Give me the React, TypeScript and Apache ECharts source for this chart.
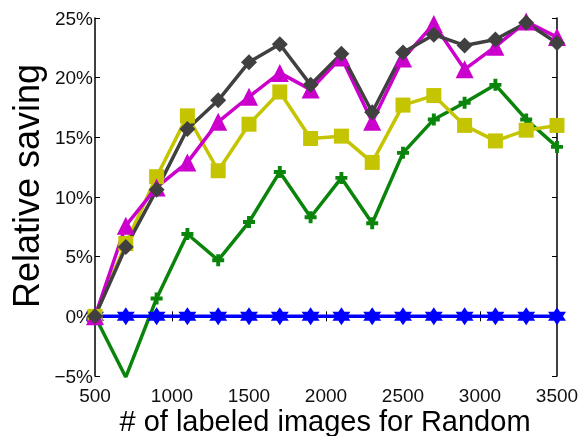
import React, { useEffect, useRef } from "react";
import * as echarts from "echarts";

// Number of labeled images (x) and relative saving in percent (y) per method
const labeledImages = [500, 700, 900, 1100, 1300, 1500, 1700, 1900, 2100, 2300, 2500, 2700, 2900, 3100, 3300, 3500];
const savingBlue = [0, 0, 0, 0, 0, 0, 0, 0, 0, 0, 0, 0, 0, 0, 0, 0];
const savingGreen = [0, -5.1, 1.5, 6.9, 4.7, 7.9, 12.1, 8.3, 11.6, 7.8, 13.7, 16.5, 17.9, 19.4, 16.5, 14.2];
const savingYellow = [0, 6.1, 11.7, 16.8, 12.2, 16.1, 18.8, 14.9, 15.1, 12.9, 17.7, 18.5, 16.0, 14.7, 15.6, 16.0];
const savingMagenta = [0, 7.6, 10.8, 12.9, 16.3, 18.4, 20.4, 19.0, 21.7, 16.3, 21.6, 24.5, 20.7, 22.6, 24.7, 23.4];
const savingBlack = [0, 5.8, 10.6, 15.7, 18.1, 21.3, 22.8, 19.4, 22.0, 17.1, 22.1, 23.6, 22.7, 23.2, 24.6, 22.9];
const yTicks = { min: -5, max: 25, step: 5 };
const xTicks = { min: 500, max: 3500, step: 500 };

const HEXAGRAM =
  "path://M0,-10 L2.887,-5 L8.66,-5 L5.774,0 L8.66,5 L2.887,5 L0,10 L-2.887,5 L-8.66,5 L-5.774,0 L-8.66,-5 L-2.887,-5 Z";
const PLUS =
  "path://M-1.3,-4 L1.3,-4 L1.3,-1.3 L4,-1.3 L4,1.3 L1.3,1.3 L1.3,4 L-1.3,4 L-1.3,1.3 L-4,1.3 L-4,-1.3 L-1.3,-1.3 Z";

const pairs = (ys: number[]) => labeledImages.map((x, i) => [x, ys[i]]);

export default function App() {
  const ref = useRef<HTMLDivElement>(null);

  useEffect(() => {
    if (!ref.current) return;
    const chart = echarts.init(ref.current, undefined, { renderer: "svg" });
    const font = "Liberation Sans, Arial, Helvetica, sans-serif";
    const tickFmt = (v: number) => (v < 0 ? "\u2212" + Math.abs(v) : String(v)) + "%";

    const line = (name: string, data: number[], color: string, symbol: string, size: number) => ({
      name,
      type: "line",
      data: pairs(data),
      symbol,
      symbolSize: size,
      lineStyle: { color, width: 3.5 },
      itemStyle: { color, borderColor: color, borderWidth: 0 },
      emphasis: { disabled: true },
    });

    const frameLine = { show: true, lineStyle: { color: "#000", width: 1.5 } };
    const frameTick = { show: true, inside: true, length: 5, lineStyle: { color: "#000", width: 1 } };

    chart.setOption({
      animation: false,
      grid: { left: 95, right: 25, top: 18, bottom: 60 },
      xAxis: [
        {
          type: "value",
          min: xTicks.min,
          max: xTicks.max,
          interval: xTicks.step,
          axisLine: frameLine,
          axisTick: frameTick,
          axisLabel: {
            color: "#111",
            fontSize: 19,
            lineHeight: 19,
            fontFamily: font,
            margin: 10,
            formatter: (v: number) => String(v),
          },
          splitLine: { show: false },
        },
        {
          type: "value",
          position: "top",
          min: xTicks.min,
          max: xTicks.max,
          interval: xTicks.step,
          axisLine: frameLine,
          axisTick: frameTick,
          axisLabel: { show: false },
          splitLine: { show: false },
        },
      ],
      yAxis: [
        {
          type: "value",
          min: yTicks.min,
          max: yTicks.max,
          interval: yTicks.step,
          axisLine: frameLine,
          axisTick: frameTick,
          axisLabel: {
            color: "#111",
            fontSize: 19,
            lineHeight: 19,
            fontFamily: font,
            margin: 2,
            formatter: tickFmt,
          },
          splitLine: { show: false },
        },
        {
          type: "value",
          position: "right",
          min: yTicks.min,
          max: yTicks.max,
          interval: yTicks.step,
          axisLine: frameLine,
          axisTick: frameTick,
          axisLabel: { show: false },
          splitLine: { show: false },
        },
      ],
      series: [
        line("Green", savingGreen, "#0a840a", PLUS, 12),
        line("Blue", savingBlue, "#0000ff", HEXAGRAM, 18),
        line("Yellow", savingYellow, "#c4c400", "rect", 15),
        line("Magenta", savingMagenta, "#cc00cc", "triangle", 18),
        line("Black", savingBlack, "#404040", "diamond", 16),
      ],
      graphic: [
        {
          type: "text",
          x: 325,
          y: 421,
          style: {
            text: "# of labeled images for Random",
            font: `29px ${font}`,
            fill: "#000",
            align: "center",
            verticalAlign: "middle",
          },
        },
        {
          type: "text",
          x: 26,
          y: 186,
          rotation: Math.PI / 2,
          style: {
            text: "Relative saving",
            font: `36px ${font}`,
            fill: "#000",
            align: "center",
            verticalAlign: "middle",
          },
        },
      ],
    });

    return () => chart.dispose();
  }, []);

  return (
    <div
      ref={ref}
      style={{ position: "fixed", left: 0, top: 0, width: 582, height: 436 }}
    />
  );
}
